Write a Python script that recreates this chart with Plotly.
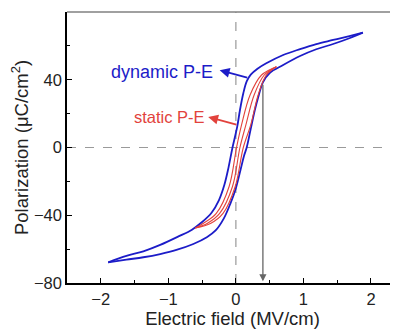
import plotly.graph_objects as go

# Dynamic P-E loop (blue): descending (upper) branch and ascending (lower) branch
dyn_up_E = [1.88, 1.68, 1.44, 1.19, 0.95, 0.70, 0.45, 0.32, 0.22, 0.16, 0.11, 0.06, 0.02, -0.05, -0.11, -0.17, -0.25, -0.36, -0.50, -0.65, -0.85, -1.12, -1.37, -1.62, -1.89]
dyn_up_P = [67.8, 65.8, 63.5, 61.1, 58.1, 54.6, 49.7, 46.5, 43.0, 39.0, 32.0, 22.0, 12.3, 0.0, -12.0, -22.0, -31.0, -38.5, -44.0, -48.5, -52.5, -57.5, -61.3, -64.0, -67.8]
dyn_lo_E = [-1.89, -1.62, -1.37, -1.12, -0.88, -0.63, -0.43, -0.30, -0.18, -0.08, 0.00, 0.07, 0.12, 0.16, 0.22, 0.28, 0.34, 0.40, 0.50, 0.70, 0.95, 1.19, 1.44, 1.68, 1.88]
dyn_lo_P = [-67.8, -66.2, -64.8, -62.9, -60.5, -57.0, -53.0, -49.0, -42.0, -33.0, -24.0, -13.0, -5.0, 0.0, 11.0, 22.0, 31.0, 38.5, 44.0, 48.7, 54.0, 58.0, 61.1, 64.5, 67.8]

# Static P-E (red): three curves sharing polarization samples
stat_P = [-47.5, -44.7, -38.9, -23.0, 0.0, 13.3, 31.0, 42.8, 47.7]
stat_E_left = [-0.60, -0.48, -0.29, -0.10, 0.01, 0.084, 0.21, 0.38, 0.60]
stat_E_mid = [-0.60, -0.42, -0.24, -0.05, 0.06, 0.148, 0.27, 0.42, 0.60]
stat_E_right = [-0.60, -0.37, -0.19, -0.01, 0.11, 0.22, 0.33, 0.45, 0.60]

# Annotation anchors (data coordinates)
dyn_label = ("dynamic P-E", -1.09, 44.6)
dyn_arrow = (-0.24, 45.6, 0.19, 41.0)   # head x, head y, tail x, tail y
stat_label = ("static P-E", -0.98, 18.0)
stat_arrow = (-0.41, 18.0, 0.03, 13.3)
vert_arrow = (0.40, -79.0, 0.40, 38.0)

x_ticks = [-2, -1, 0, 1, 2]
y_ticks = [-80, -40, 0, 40, 80]

BLUE = "#1c1cc8"
RED = "#e2423c"
FONT = "Arial, Liberation Sans, sans-serif"


def fmt(v):
    return str(v).replace("-", "\u2212")


fig = go.Figure()
for E, P in [(dyn_up_E, dyn_up_P), (dyn_lo_E, dyn_lo_P)]:
    fig.add_trace(go.Scatter(x=E, y=P, mode="lines",
                             line=dict(color=BLUE, width=1.8, shape="spline", smoothing=1.0),
                             showlegend=False, hoverinfo="skip"))
for E in [stat_E_left, stat_E_mid, stat_E_right]:
    fig.add_trace(go.Scatter(x=E, y=stat_P, mode="lines",
                             line=dict(color=RED, width=1.1, shape="spline", smoothing=1.0),
                             showlegend=False, hoverinfo="skip"))

# dashed zero lines
fig.add_shape(type="line", xref="x", yref="paper", x0=0, x1=0, y0=0, y1=1,
              line=dict(color="#9a9a9a", width=1.2, dash="dash"), layer="below")
fig.add_shape(type="line", xref="paper", yref="y", x0=0, x1=1, y0=0, y1=0,
              line=dict(color="#9a9a9a", width=1.2, dash="dash"), layer="below")
# top frame line
fig.add_shape(type="line", xref="paper", yref="paper", x0=0, x1=1, y0=1, y1=1,
              line=dict(color="#808080", width=1.5))

# labels
fig.add_annotation(x=dyn_label[1], y=dyn_label[2], text=dyn_label[0], showarrow=False,
                   font=dict(color=BLUE, size=18, family=FONT))
fig.add_annotation(x=stat_label[1], y=stat_label[2], text=stat_label[0], showarrow=False,
                   font=dict(color=RED, size=16.5, family=FONT))
for (hx, hy, tx, ty), col, w in [(dyn_arrow, BLUE, 1.8), (stat_arrow, RED, 1.8), (vert_arrow, "#666666", 1.3)]:
    fig.add_annotation(x=hx, y=hy, ax=tx, ay=ty, xref="x", yref="y", axref="x", ayref="y",
                       text="", showarrow=True, arrowhead=2, arrowsize=1.1, arrowwidth=w,
                       arrowcolor=col)

axis_common = dict(showline=True, linecolor="black", linewidth=1.5, ticks="inside",
                   ticklen=5, tickwidth=1.2, tickcolor="black", showgrid=False, zeroline=False,
                   automargin=False,
                   tickfont=dict(size=16.5, family=FONT, color="#222"))
fig.update_xaxes(range=[-2.5, 2.4], tickvals=x_ticks, ticktext=[fmt(v) for v in x_ticks],
                 minor=dict(ticks="inside", dtick=0.5, tick0=0, ticklen=3, tickcolor="black", showgrid=False),
                 title=dict(text="Electric field (MV/cm)", font=dict(size=18.5, family=FONT, color="#222"), standoff=6),
                 **axis_common)
fig.update_yaxes(range=[-80, 80], tickvals=y_ticks, ticktext=[fmt(v) for v in y_ticks],
                 minor=dict(ticks="inside", dtick=20, tick0=0, ticklen=3, tickcolor="black", showgrid=False),
                 title=dict(text="Polarization (μC/cm<sup>2</sup>)", font=dict(size=18.5, family=FONT, color="#222"), standoff=5),
                 **axis_common)

# page body has an 8px default margin, so the figure is sized to fill the 398x334 window
fig.update_layout(width=390, height=326, margin=dict(l=59, r=0, t=4, b=51),
                  plot_bgcolor="white", paper_bgcolor="white", showlegend=False)
fig.write_html("out.html")
